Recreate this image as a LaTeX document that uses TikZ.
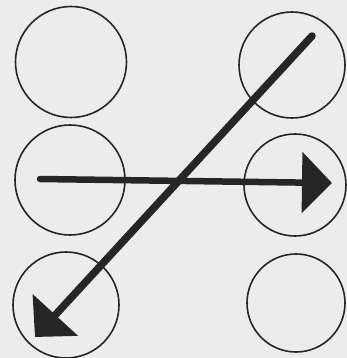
\documentclass[tikz,border=0pt]{standalone}
\usetikzlibrary{arrows.meta}
\definecolor{paper}{HTML}{ECECEC}
\definecolor{ink}{HTML}{262626}
\tikzset{
  ring/.style={circle, draw=ink, line width=1.6pt, inner sep=0pt, minimum size=#1},
  bigarrow/.style={draw=ink, line width=6.5pt, line cap=round,
    -{Triangle[length=30pt,width=60pt]}},
}
\begin{document}
\begin{tikzpicture}[x=1pt,y=-1pt]
\fill[paper] (0,0) rectangle (347,358);
\useasboundingbox (0,0) rectangle (347,358);
\node[ring=111pt] (tl) at (71,62) {};
\node[ring=106pt] (tr) at (292,65) {};
\node[ring=110pt] (ml) at (70,180) {};
\node[ring=102pt] (mr) at (295,185) {};
\node[ring=106pt] (bl) at (66,305) {};
\node[ring=98pt] (br) at (296,303) {};
\coordinate (hs) at (40,179);
\coordinate (he) at (332,183);
\coordinate (ds) at (312,36);
\coordinate (de) at (35,337);
\draw[bigarrow] (hs) -- (he);
\draw[bigarrow, line width=7.5pt] (ds) -- (de);
\end{tikzpicture}
\end{document}
